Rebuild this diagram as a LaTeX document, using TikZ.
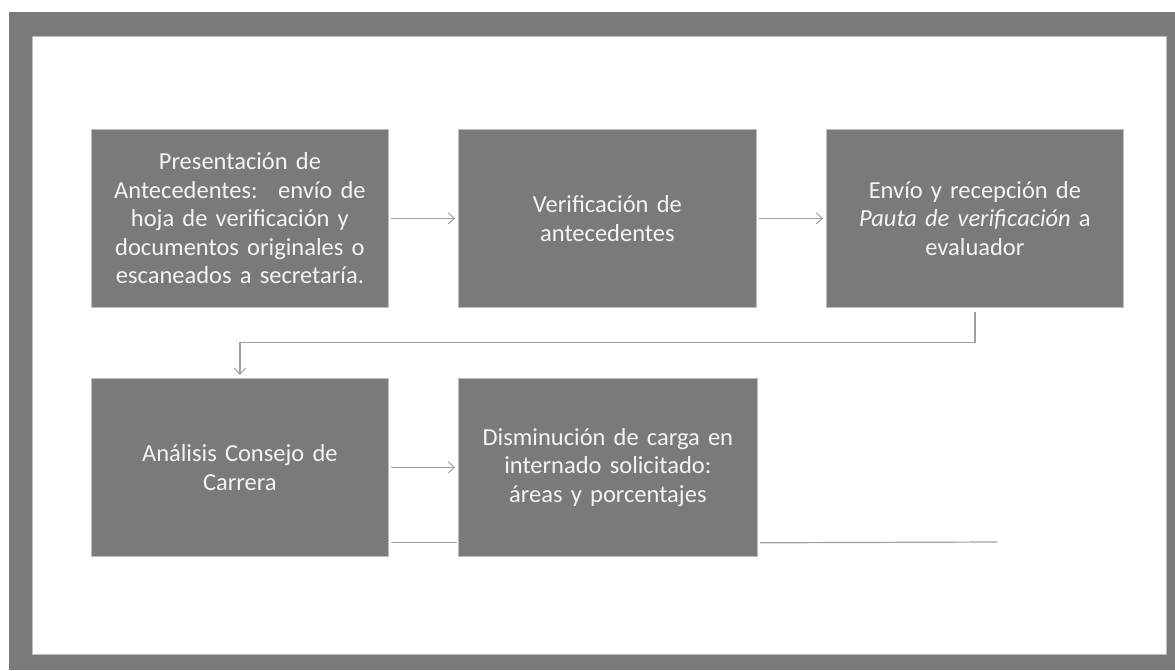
\documentclass[tikz,border=0pt]{standalone}
\usepackage{fontspec}
\setmainfont{Carlito}[WordSpace=0.75]
\usetikzlibrary{arrows.meta}
\definecolor{framegray}{HTML}{7A7A7A}
\definecolor{boxgray}{HTML}{7A7A7A}
\definecolor{boxedge}{HTML}{BEBEBE}
\definecolor{txt}{HTML}{F4F4F4}
\definecolor{conn}{HTML}{A0A0A0}
\tikzset{
  stepbox/.style={draw=boxedge, line width=0.8pt, fill=boxgray, anchor=north west,
    minimum width=297pt, minimum height=178pt, inner sep=4pt, align=center,
    text=txt, font=\fontsize{24.5pt}{28.5pt}\selectfont, text width=285pt},
  link/.style={draw=conn, line width=1.2pt},
  arr/.style={link, -{Straight Barb[length=6pt,width=11pt,line width=1pt]}},
}
\begin{document}
\begin{tikzpicture}[x=1pt,y=-1pt]
\useasboundingbox (0,0) rectangle (1175,670);
\fill[framegray] (9,12) rectangle (1175,670);
\fill[white] (32,36) rectangle (1166,654);
\draw[boxedge, line width=0.6pt] (32,36) rectangle (1166,654);

\node[stepbox] (b1) at (91,129) {Presentación de\\Antecedentes:~ envío de\\hoja de verificación y\\documentos originales o\\escaneados a secretaría.};
\node[stepbox, minimum width=298pt] (b2) at (458,129) {Verificación de\\antecedentes};
\node[stepbox] (b3) at (826,129) {Envío y recepción de\\\textit{Pauta de verificación} a\\evaluador};
\node[stepbox] (b4) at (91,378) {Análisis Consejo de\\Carrera};
\node[stepbox, minimum width=299pt] (b5) at (458,378) {Disminución de carga en\\internado solicitado:\\áreas y porcentajes};

\draw[arr] ([xshift=2pt]b1.east) -- ([xshift=-3pt]b2.west);
\draw[arr] ([xshift=2pt]b2.east) -- ([xshift=-3pt]b3.west);
\draw[arr] ([yshift=-4pt]b3.south) -- ++(0,31) -| ([yshift=3pt]b4.north);
\draw[arr] ([xshift=2pt]b4.east) -- ([xshift=-3pt]b5.west);
\coordinate (lineend) at (997,542);
\draw[link] ([xshift=2pt,yshift=14pt]b4.south east) -- ([xshift=-1pt,yshift=14pt]b5.south west);
\draw[link] ([xshift=2pt,yshift=14pt]b5.south east) -- (lineend);
\end{tikzpicture}
\end{document}
